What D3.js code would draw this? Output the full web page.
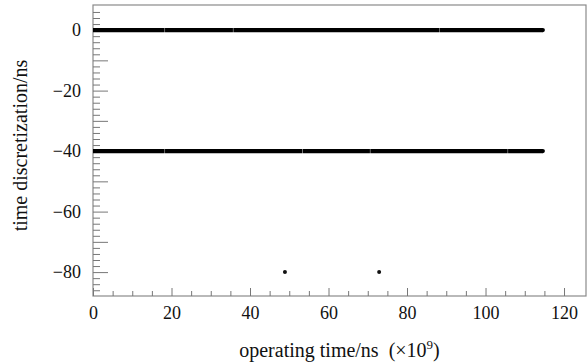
<!DOCTYPE html>
<html>
<head>
<meta charset="utf-8">
<script src="https://cdn.jsdelivr.net/npm/d3@7"></script>
<style>
  body { margin: 0; background: #fff; }
  text { font-family: "Liberation Serif", "DejaVu Serif", serif; }
</style>
</head>
<body>
<svg id="chart" width="587" height="362"></svg>
<script>
// runs of dense samples at each discretization level: [start, end] in 1e9 ns
const runsAt0 = [[0, 18.25], [18.35, 35.65], [35.75, 88.15], [88.25, 114.6]];
const runsAt40 = [[0, 18.25], [18.35, 53.35], [53.45, 70.55], [70.65, 105.65], [105.75, 114.6]];
const levels = [0, -40];
const outliers = [[48.9, -80], [72.9, -80]];
const xTicks = [0, 20, 40, 60, 80, 100, 120];
const yTicks = [0, -20, -40, -60, -80];

const margin = {top: 5, right: 1, bottom: 66, left: 93};
const width = 587 - margin.left - margin.right;
const height = 362 - margin.top - margin.bottom;

const svg = d3.select("svg#chart")
  .append("g")
  .attr("transform", "translate(" + margin.left + "," + margin.top + ")");

const x = d3.scaleLinear().domain([0, 125.6]).range([0, width]);
const y = d3.scaleLinear().domain([-87.9, 8.3]).range([height, 0]);

// frame
svg.append("rect")
  .attr("width", width).attr("height", height)
  .attr("fill", "none").attr("stroke", "#8a8a8a").attr("stroke-width", 1.2);

// x axis ticks (inside)
const xMinor = d3.range(0, 125, 5);
svg.append("g")
  .attr("transform", "translate(0," + height + ")")
  .call(d3.axisTop(x).tickValues(xMinor).tickSize(5).tickFormat(""))
  .call(g => g.select(".domain").remove())
  .call(g => g.selectAll(".tick line").attr("stroke", "#777")
    .attr("y2", d => d % 20 === 0 ? -8 : -5));

svg.append("g")
  .attr("transform", "translate(0," + height + ")")
  .call(d3.axisBottom(x).tickValues(xTicks).tickSize(0).tickPadding(10))
  .call(g => g.select(".domain").remove())
  .call(g => g.selectAll("text").attr("font-size", 18).attr("fill", "#111"));

// y axis ticks (inside)
const yMinor = d3.range(-86, 8, 2);
svg.append("g")
  .call(d3.axisRight(y).tickValues(yMinor).tickFormat(""))
  .call(g => g.select(".domain").remove())
  .call(g => g.selectAll(".tick line").attr("stroke", "#777")
    .attr("x2", d => d % 10 === 0 ? 15 : 7));

svg.append("g")
  .call(d3.axisLeft(y).tickValues(yTicks).tickSize(0).tickPadding(12)
    .tickFormat(d => d < 0 ? "\u2212" + Math.abs(d) : d))
  .call(g => g.select(".domain").remove())
  .call(g => g.selectAll("text").attr("font-size", 18).attr("fill", "#111"));

// the two dense levels
const series = [runsAt0, runsAt40];
series.forEach((runs, i) => {
  svg.append("g").selectAll("line")
    .data(runs)
    .join("line")
    .attr("x1", d => x(d[0])).attr("x2", d => x(d[1]))
    .attr("y1", y(levels[i])).attr("y2", y(levels[i]))
    .attr("stroke", "#000").attr("stroke-width", 4.2)
    .attr("stroke-linecap", "butt");
  // rounded ends
  svg.append("circle")
    .attr("cx", x(runs[runs.length - 1][1])).attr("cy", y(levels[i]))
    .attr("r", 2.1).attr("fill", "#000");
});

svg.append("g").selectAll("circle")
  .data(outliers)
  .join("circle")
  .attr("cx", d => x(d[0])).attr("cy", d => y(d[1]))
  .attr("r", 2).attr("fill", "#111");

// labels
const xl = svg.append("text")
  .attr("x", width / 2).attr("y", height + 61)
  .attr("text-anchor", "middle").attr("font-size", 20).attr("fill", "#111");
xl.append("tspan").text("operating time/ns\u00a0\u00a0(\u00d710");
xl.append("tspan").attr("font-size", 13).attr("dy", -8).text("9");
xl.append("tspan").attr("dy", 8).text(")");

svg.append("text")
  .attr("transform", "rotate(-90)")
  .attr("x", -height / 2 + 5).attr("y", -margin.left + 27)
  .attr("text-anchor", "middle").attr("font-size", 20).attr("fill", "#111")
  .text("time discretization/ns");
</script>
</body>
</html>
